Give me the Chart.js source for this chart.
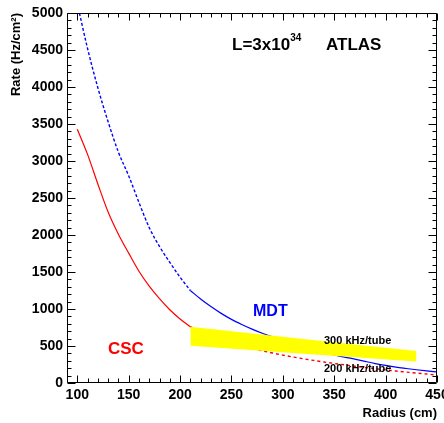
<!DOCTYPE html>
<html>
<head>
<meta charset="utf-8">
<script src="https://cdn.jsdelivr.net/npm/chart.js@4"></script>
<style>
  body { margin: 0; background: #fff; }
  canvas { display: block; }
</style>
</head>
<body>
<canvas id="rate" width="444" height="423"></canvas>
<script>
// Data
const innerRadius = [100, 110, 120, 130, 140, 150, 160, 170, 180, 190, 200, 210];
const outerRadius = [210, 220, 230, 240, 250, 260, 270, 280, 290, 300, 310, 320, 330,
                     340, 350, 360, 370, 380, 390, 400, 410, 420, 430, 440, 450];

const mdtInner = [5130, 4520, 3990, 3530, 3120, 2800, 2440, 2100, 1845, 1630, 1430, 1250];
const mdtOuter = [1250, 1135, 1033, 941, 860, 791, 728, 672, 624, 578, 536, 492, 452,
                  415, 381, 350, 322, 292, 263, 237, 214, 196, 179, 164, 150];

const cscInner = [3430, 3090, 2690, 2310, 2010, 1755, 1510, 1310, 1140, 990, 866, 761];
const cscOuter = [761, 700, 645, 595, 550, 508, 470, 436, 405, 377, 351, 327, 305,
                  284, 264, 245, 227, 210, 193, 177, 162, 148, 134, 121, 108];

// yellow band between 300 kHz/tube and 200 kHz/tube
const bandRadius = [210, 430];
const band300 = [760, 432];
const band200 = [505, 290];

const xTicks = [100, 150, 200, 250, 300, 350, 400, 450];
const yTicks = [0, 500, 1000, 1500, 2000, 2500, 3000, 3500, 4000, 4500, 5000];

const toPoints = (xs, ys) => xs.map((x, i) => ({ x: x, y: ys[i] }));

const FONT = '"Liberation Sans", Arial, sans-serif';

// frame, inside ticks and text labels (ROOT style)
const rootFrame = {
    id: 'rootFrame',
    afterDatasetsDraw(chart) {
        const { ctx, chartArea: a, scales: { x, y } } = chart;
        ctx.save();
        ctx.strokeStyle = '#000';
        ctx.lineWidth = 1;
        const L = Math.round(a.left) + 0.5, R = Math.round(a.right) - 0.5;
        const T = Math.round(a.top) + 0.5, B = Math.round(a.bottom) - 0.5;
        ctx.beginPath();
        ctx.rect(L, T, R - L, B - T);
        for (let v = 90; v <= 450; v += 10) {
            const px = Math.round(x.getPixelForValue(v)) + 0.5;
            const len = xTicks.includes(v) ? 7 : 4;
            ctx.moveTo(px, B); ctx.lineTo(px, B - len);
            ctx.moveTo(px, T); ctx.lineTo(px, T + len);
        }
        for (let v = 0; v <= 5000; v += 100) {
            const py = Math.round(y.getPixelForValue(v)) + 0.5;
            const len = yTicks.includes(v) ? 8 : 4;
            ctx.moveTo(L, py); ctx.lineTo(L + len, py);
            ctx.moveTo(R, py); ctx.lineTo(R - len, py);
        }
        ctx.stroke();

        ctx.textBaseline = 'alphabetic';
        ctx.textAlign = 'left';
        ctx.fillStyle = '#000';
        ctx.font = 'bold 17px ' + FONT;
        ctx.fillText('L=3x10', 232, 50);
        const w = ctx.measureText('L=3x10').width;
        ctx.font = 'bold 10px ' + FONT;
        ctx.fillText('34', 232 + w, 41);
        ctx.font = 'bold 17px ' + FONT;
        ctx.fillText('ATLAS', 326, 50);

        ctx.font = 'bold 11px ' + FONT;
        ctx.fillText('300 kHz/tube', 324, 343.5);
        ctx.fillText('200 kHz/tube', 324, 372);

        ctx.fillStyle = '#0000ff';
        ctx.font = 'bold 16px ' + FONT;
        ctx.fillText('MDT', 253, 316);

        ctx.fillStyle = '#ff0000';
        ctx.font = 'bold 17px ' + FONT;
        ctx.fillText('CSC', 108, 354);
        ctx.restore();
    }
};

let chart = new Chart(document.getElementById('rate'), {
    type: 'line',
    data: {
        datasets: [
            {
                label: '300 kHz/tube',
                data: toPoints(bandRadius, band300),
                borderWidth: 0,
                pointRadius: 0,
                fill: false
            },
            {
                label: '200 kHz/tube',
                data: toPoints(bandRadius, band200),
                borderWidth: 0,
                pointRadius: 0,
                backgroundColor: '#ffff00',
                fill: '-1'
            },
            {
                label: 'MDT',
                data: toPoints(outerRadius, mdtOuter),
                borderColor: '#0000ff',
                borderWidth: 1.2
            },
            {
                label: 'MDT extrapolated',
                data: toPoints(innerRadius, mdtInner),
                borderColor: '#0000ff',
                borderWidth: 1.4,
                borderDash: [3, 2]
            },
            {
                label: 'CSC',
                data: toPoints(innerRadius, cscInner),
                borderColor: '#ff0000',
                borderWidth: 1.2
            },
            {
                label: 'CSC extrapolated',
                data: toPoints(outerRadius, cscOuter),
                borderColor: '#ff0000',
                borderWidth: 1.4,
                borderDash: [3, 3]
            }
        ]
    },
    options: {
        responsive: false,
        animation: false,
        layout: { padding: { left: 0, top: 13, right: 7, bottom: 0 } },
        elements: {
            point: { radius: 0 },
            line: { cubicInterpolationMode: 'monotone', fill: false }
        },
        plugins: {
            legend: { display: false },
            tooltip: { enabled: false }
        },
        scales: {
            x: {
                type: 'linear',
                min: 90,
                max: 450,
                grid: { display: false, drawTicks: false },
                border: { display: false },
                afterBuildTicks: (scale) => { scale.ticks = xTicks.map(v => ({ value: v })); },
                afterFit: (scale) => { scale.height = 40; scale.paddingLeft = 0; scale.paddingRight = 0; },
                ticks: {
                    color: '#000',
                    padding: 4,
                    maxRotation: 0,
                    callback: (v) => String(v),
                    font: { family: FONT, size: 14, weight: 'bold' }
                },
                title: {
                    display: true,
                    text: 'Radius (cm)',
                    align: 'end',
                    color: '#000',
                    padding: { top: 0, bottom: 2 },
                    font: { family: FONT, size: 13, weight: 'bold' }
                }
            },
            y: {
                min: 0,
                max: 5000,
                grid: { display: false, drawTicks: false },
                border: { display: false },
                afterBuildTicks: (scale) => { scale.ticks = yTicks.map(v => ({ value: v })); },
                afterFit: (scale) => { scale.width = 67; scale.paddingTop = 0; scale.paddingBottom = 0; },
                ticks: {
                    color: '#000',
                    padding: 4,
                    callback: (v) => String(v),
                    font: { family: FONT, size: 14, weight: 'bold' }
                },
                title: {
                    display: true,
                    text: 'Rate (Hz/cm²)',
                    align: 'end',
                    color: '#000',
                    padding: { top: 9, bottom: 0 },
                    font: { family: FONT, size: 13, weight: 'bold' }
                }
            }
        }
    },
    plugins: [rootFrame]
});
</script>
</body>
</html>
